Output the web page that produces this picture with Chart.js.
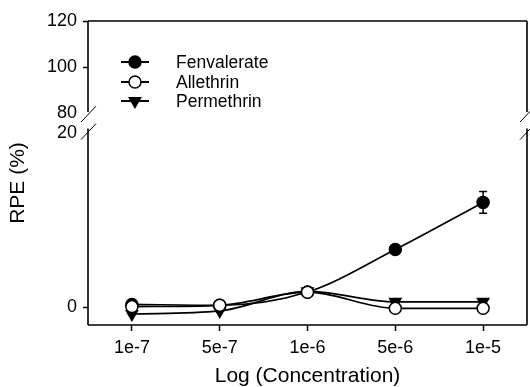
<!DOCTYPE html>
<html><head><meta charset="utf-8">
<script src="https://cdn.jsdelivr.net/npm/chart.js@4/dist/chart.umd.min.js"></script>
<style>html,body{margin:0;padding:0;background:#fff;}#wrap{width:530px;height:387px;position:relative;}</style>
</head><body><div id="wrap"><canvas id="c" width="530" height="387"></canvas></div>
<script>
// ---- data ----
const categories = ['1e-7', '5e-7', '1e-6', '5e-6', '1e-5'];
const seriesNames = ['Fenvalerate', 'Allethrin', 'Permethrin'];
const fenvalerate = [0.3, 0.2, 1.72, 6.6, 12.0];
const fenvalerateErr = [0.2, 0.2, 0.3, 0.3, 1.24];
const allethrin = [0.05, 0.2, 1.7, -0.15, -0.15];
const permethrin = [-0.8, -0.45, 1.8, 0.6, 0.6];
const yTickValues = [0, 20, 80, 100, 120];

// ---- broken axis mapping ----
const breakLow = 20, breakHigh = 80, topValue = 120, bottomValue = -2.06;
const upperCompress = 0.264, breakGap = 2.24;
function toAxis(v) { return v <= breakLow ? v : breakLow + breakGap + (v - breakHigh) * upperCompress; }

const ink = '#000';
const FONT = "'Liberation Sans', Arial, sans-serif";

function makeSet(label, data, style, fill, rotation, radius, order) {
  return {
    label, data: data.map(toAxis), order,
    borderColor: ink, borderWidth: 1.7,
    pointStyle: style, pointRotation: rotation, pointRadius: radius, pointHoverRadius: radius,
    pointBackgroundColor: fill, pointBorderColor: ink, pointBorderWidth: 1.5,
    cubicInterpolationMode: 'monotone', fill: false
  };
}

const datasets = [
  makeSet(seriesNames[0], fenvalerate, 'circle', ink, 0, 6, 1),
  makeSet(seriesNames[1], allethrin, 'circle', '#fff', 0, 6, 0),
  makeSet(seriesNames[2], permethrin, 'triangle', ink, 180, 6.5, 2)
];
datasets[0].errors = fenvalerateErr;
datasets[0].raw = fenvalerate;

const errorBars = {
  id: 'errorBars',
  beforeDatasetsDraw(chart) {
    const {ctx, scales: {x, y}} = chart;
    ctx.save(); ctx.strokeStyle = ink; ctx.lineWidth = 1.5;
    chart.data.datasets.forEach(d => {
      if (!d.errors) return;
      d.errors.forEach((e, i) => {
        const px = x.getPixelForValue(i);
        const y1 = y.getPixelForValue(toAxis(d.raw[i] + e));
        const y2 = y.getPixelForValue(toAxis(d.raw[i] - e));
        ctx.beginPath();
        ctx.moveTo(px, y1); ctx.lineTo(px, y2);
        ctx.moveTo(px - 4, y1); ctx.lineTo(px + 4, y1);
        ctx.moveTo(px - 4, y2); ctx.lineTo(px + 4, y2);
        ctx.stroke();
      });
    });
    ctx.restore();
  }
};

const frame = {
  id: 'frame',
  afterDraw(chart) {
    const {ctx, chartArea: a, scales: {y}} = chart;
    const yb80 = y.getPixelForValue(toAxis(breakHigh));
    const yb20 = y.getPixelForValue(toAxis(breakLow));
    ctx.save(); ctx.setLineDash([]); ctx.strokeStyle = ink; ctx.lineWidth = 1.6;
    ctx.beginPath();
    ctx.moveTo(a.left, a.bottom); ctx.lineTo(a.right, a.bottom);
    ctx.moveTo(a.left, a.top); ctx.lineTo(a.right, a.top);
    [a.left, a.right].forEach(xx => {
      ctx.moveTo(xx, a.top); ctx.lineTo(xx, yb80 - 1);
      ctx.moveTo(xx, yb20 - 4); ctx.lineTo(xx, a.bottom);
    });
    ctx.stroke();
    ctx.lineWidth = 1;
    ctx.beginPath();
    [a.left, a.right].forEach(xx => {
      [yb80 + 1, yb20 - 1].forEach(yy => {
        ctx.moveTo(xx - 7, yy + 8); ctx.lineTo(xx + 8, yy - 8);
      });
    });
    ctx.stroke();
    // y-axis title
    const t = chart.options.scales.y.title;
    ctx.fillStyle = ink;
    ctx.font = '21px ' + FONT;
    ctx.textAlign = 'center'; ctx.textBaseline = 'middle';
    ctx.translate(18.5, 183); ctx.rotate(-Math.PI / 2);
    ctx.fillText(t.text, 0, 0);
    ctx.restore();
  }
};

function marker(ctx, d, x, y) {
  const r = d.pointRadius;
  ctx.beginPath();
  if (d.pointStyle === 'triangle') {
    let rad = d.pointRotation * Math.PI / 180;
    for (let k = 0; k < 3; k++) {
      const px = x + Math.sin(rad) * r, py = y - Math.cos(rad) * r;
      if (k === 0) ctx.moveTo(px, py); else ctx.lineTo(px, py);
      rad += 2 * Math.PI / 3;
    }
    ctx.closePath();
  } else {
    ctx.arc(x, y, r, 0, Math.PI * 2);
  }
  ctx.fill(); ctx.stroke();
}

const legendBox = {
  id: 'legendBox',
  afterDraw(chart) {
    const {ctx} = chart;
    const rows = [62, 82, 101];
    ctx.save(); ctx.setLineDash([]);
    chart.data.datasets.forEach((d, i) => {
      const yy = rows[i];
      ctx.strokeStyle = ink; ctx.lineWidth = 2;
      ctx.beginPath(); ctx.moveTo(121, yy); ctx.lineTo(149, yy); ctx.stroke();
      ctx.fillStyle = d.pointBackgroundColor; ctx.lineWidth = 1.5;
      marker(ctx, d, 135, yy);
      ctx.fillStyle = ink; ctx.font = '17.5px ' + FONT;
      ctx.textAlign = 'left'; ctx.textBaseline = 'middle';
      ctx.fillText(d.label, 176, yy + 1);
    });
    ctx.restore();
  }
};

new Chart(document.getElementById('c'), {
  type: 'line',
  data: {labels: categories, datasets},
  options: {
    responsive: false, animation: false,
    layout: {autoPadding: false, padding: {top: 21, right: 3, left: 0, bottom: 0}},
    plugins: {legend: {display: false}, tooltip: {enabled: false}},
    scales: {
      x: {
        offset: true,
        grid: {display: true, drawOnChartArea: false, offset: false, drawTicks: true, tickLength: 6, tickColor: ink, tickWidth: 1.5},
        border: {display: false},
        ticks: {color: ink, font: {family: FONT, size: 18}, padding: 6, maxRotation: 0},
        title: {display: true, text: 'Log (Concentration)', color: ink, font: {family: FONT, size: 21, lineHeight: 1}, padding: 0},
        afterFit(s) { s.height = 62; s.paddingLeft = 0; s.paddingRight = 0; }
      },
      y: {
        min: bottomValue, max: toAxis(topValue),
        afterBuildTicks(s) { s.ticks = yTickValues.map(v => ({value: toAxis(v)})); },
        grid: {display: true, drawOnChartArea: false, drawTicks: true, tickLength: 5, tickWidth: 1.5,
          tickColor: c => (c.index === 1 || c.index === 2) ? 'rgba(0,0,0,0)' : ink},
        border: {display: false},
        ticks: {color: ink, font: {family: FONT, size: 18}, padding: 6, autoSkip: false,
          callback: (v, i) => String(yTickValues[i])},
        title: {display: false, text: 'RPE (%)'},
        afterFit(s) { s.width = 88; s.paddingTop = 0; s.paddingBottom = 0; }
      }
    }
  },
  plugins: [errorBars, frame, legendBox]
});
</script>
</body></html>
